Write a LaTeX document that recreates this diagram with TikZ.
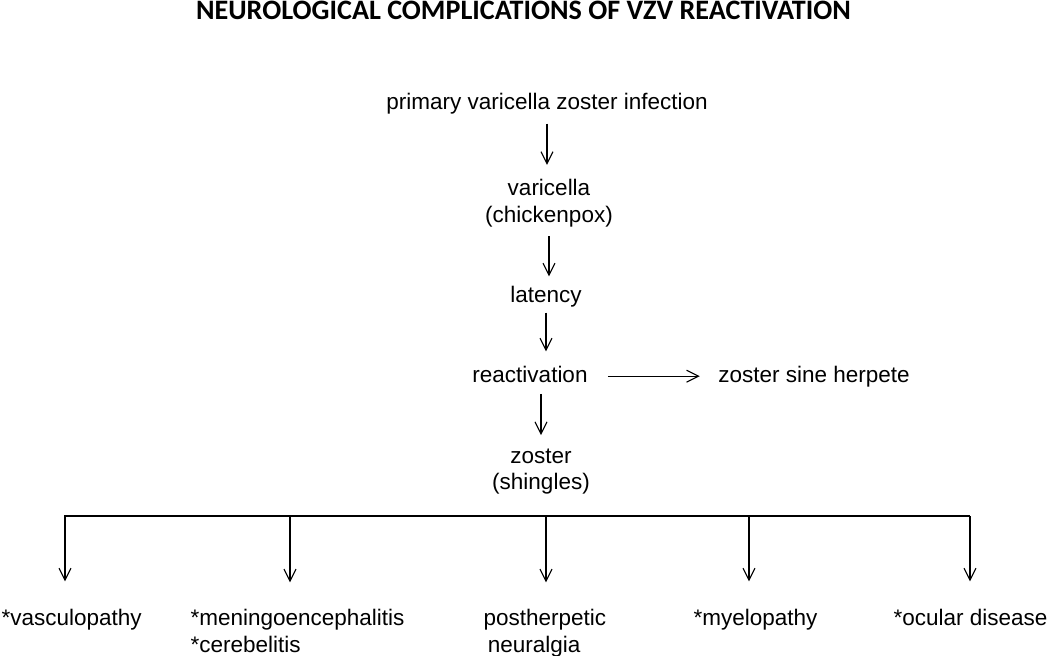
\documentclass[tikz,border=0pt]{standalone}
\usepackage{fontspec}
\setmainfont{Liberation Sans}
\newfontfamily\titlefont{Carlito}
\usetikzlibrary{arrows.meta}

\begin{document}
\begin{tikzpicture}[x=0.025cm, y=-0.025cm, >={Straight Barb[length=8.5pt,width=8.5pt]}, line width=0.8pt]
\tikzstyle{every node}=[inner sep=0pt, font=\fontsize{16}{19.1}\selectfont]
\useasboundingbox (0,0) rectangle (1050,656);
\node[anchor=base, font={\titlefont\bfseries\fontsize{20}{24}\selectfont}](title) at (523.5,20) {NEUROLOGICAL COMPLICATIONS OF VZV REACTIVATION};
% main chain
\node[anchor=base](inf) at (547,110) {primary varicella zoster infection};
\node[anchor=north, align=center](vari) at (549,179) {varicella\\(chickenpox)};
\node[anchor=base](lat) at (546,302) {latency};
\node[anchor=base](reac) at (530,382) {reactivation};
\node[anchor=base](zsh) at (814,382) {zoster sine herpete};
\node[anchor=north, align=center](zos) at (541,448) {zoster\\(shingles)};
\draw[->, shorten <=5.9pt, shorten >=10pt] (inf.south) -- (inf.south |- vari.north);
\draw[->, shorten <=5.9pt, shorten >=6.2pt] (vari.south) -- (vari.south |- lat.north);
\draw[->, shorten <=3.8pt, shorten >=9.8pt] (lat.south) -- (lat.south |- reac.north);
\draw[->, shorten <=14pt, shorten >=12.8pt] (reac.east |- zsh.west) -- (zsh.west);
\draw[->, shorten <=7.8pt, shorten >=9.2pt] (zos.north |- reac.south) -- (zos.north);
% complications
\node[anchor=base west](vas) at (1,625) {*vasculopathy};
\node[anchor=north west, align=left](men) at (190,609) {*meningoencephalitis\\*cerebelitis};
\node[anchor=north west, align=left](post) at (483,609) {postherpetic\\\hspace*{3pt}neuralgia};
\node[anchor=base west](mye) at (693,625) {*myelopathy};
\node[anchor=base east](ocu) at (1048,625) {*ocular disease};
\coordinate (b1) at (65,516);
\coordinate (b2) at (290,516);
\coordinate (b3) at (546,516);
\coordinate (b4) at (749,516);
\coordinate (b5) at (970,516);
\draw[->, shorten >=19pt] (b5) -- (b1) -- (b1 |- vas.north);
\draw[->, shorten >=19pt] (b2) -- (b2 |- men.north);
\draw[->, shorten >=19pt] (b3) -- (b3 |- post.north);
\draw[->, shorten >=19pt] (b4) -- (b4 |- mye.north);
\draw[->, shorten >=19pt] (b5) -- (b5 |- ocu.north);
\end{tikzpicture}
\end{document}
